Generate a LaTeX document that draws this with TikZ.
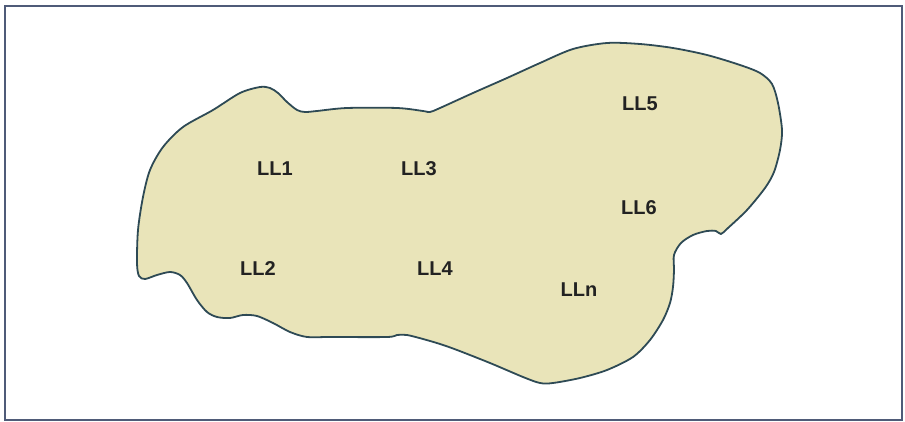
\documentclass[tikz,border=0pt]{standalone}
\usepackage{fontspec}
\setmainfont{Liberation Sans}
\definecolor{framec}{HTML}{4F5B78}
\definecolor{blobfill}{HTML}{E9E4B9}
\definecolor{blobline}{HTML}{2E4A55}
\definecolor{textc}{HTML}{222222}
\begin{document}
\begin{tikzpicture}[x=1pt,y=-1pt,
  frameline/.style={draw=framec,line width=2pt},
  region/.style={draw=blobline,fill=blobfill,line width=1.8pt,line join=round},
  lbl/.style={text=textc,font=\fontsize{20}{22}\selectfont\bfseries,inner sep=0pt}]
\useasboundingbox (0,0) rectangle (905,422);
\draw[frameline] (5,6) rectangle (902,420);
\draw[region] plot[smooth cycle,tension=0.5] coordinates {
 (260,87) (270,88) (278,93) (287,102) (297,110) (305,112) (317,111) (347,108)
 (397,108) (423,111) (430,112) (440,108) (473,93) (507,78) (540,63) (573,49)
 (607,43) (640,44) (673,48) (707,55) (740,65) (760,73) (772,84) (778,103)
 (782,130) (780,150) (774,172) (765,188) (747,210) (728,228) (721,234) (716,231)
 (707,231) (693,235) (681,243) (674,255) (674,270) (673,287) (670,303) (663,320)
 (650,340) (633,357) (607,370) (580,378) (553,383) (540,383) (523,377) (490,363)
 (457,350) (440,344) (423,339) (407,335) (397,335) (387,337) (330,337) (307,337)
 (290,332) (273,323) (257,316) (243,315) (230,318) (217,317) (207,312) (197,300)
 (187,283) (180,275) (170,272) (157,275) (145,279) (139,276) (137,263) (138,230)
 (143,197) (150,170) (163,147) (183,127) (213,110) (240,93)};
\node[lbl] (ll1) at (275,169) {LL1};
\node[lbl] (ll3) at (419,169) {LL3};
\node[lbl] (ll2) at (258,269) {LL2};
\node[lbl] (ll4) at (435,269) {LL4};
\node[lbl] (ll5) at (640,104) {LL5};
\node[lbl] (ll6) at (639,208) {LL6};
\node[lbl] (lln) at (579,290) {LLn};
\end{tikzpicture}
\end{document}
